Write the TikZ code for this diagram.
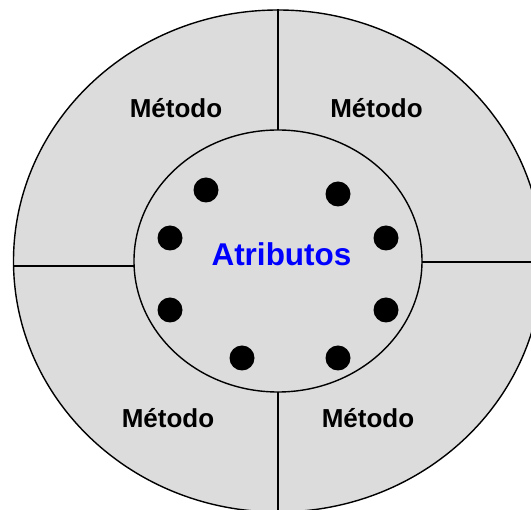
\documentclass[tikz,border=0pt]{standalone}
\usepackage{fontspec}
\setmainfont{Liberation Sans}
\usetikzlibrary{positioning}
\definecolor{ink}{HTML}{000000}
\definecolor{panel}{HTML}{DCDCDC}
\definecolor{attrblue}{HTML}{0000FF}

\begin{document}
\begin{tikzpicture}[x=1pt,y=-1pt]
        \useasboundingbox (0,0) rectangle (531,510);
        \clip (0,0) rectangle (531,510);
        \draw[line width=1.4pt,ink,fill=panel] (278,261) ellipse [x radius=264.5,y radius=251];
        \draw[line width=1.4pt,ink,fill=panel] (278,261) ellipse [x radius=144,y radius=131];
        \draw[line width=1.4pt,ink] (278,9) -- (278,130);
        \draw[line width=1.4pt,ink] (278,392) -- (278,515);
        \draw[line width=1.4pt,ink] (13,266) -- (134,266);
        \draw[line width=1.4pt,ink] (422,262) -- (535,262);
        \foreach \px/\py [count=\i] in {206/190,338/194,170/238,386/238,170/310,386/310,242/358,338/358}
          \node[fill=ink,circle,inner sep=0pt,minimum size=25pt] (a\i) at (\px,\py) {};
        \node[font=\bfseries\fontsize{31.5}{36}\selectfont,text=attrblue,anchor=base] (attr) at (281.5,266) {Atributos};
        \node[font=\bfseries\fontsize{26}{30}\selectfont,anchor=base] (m1) at (176,117.5) {Método};
        \node[font=\bfseries\fontsize{26}{30}\selectfont,anchor=base] (m2) at (376.5,117.5) {Método};
        \node[font=\bfseries\fontsize{26}{30}\selectfont,anchor=base] (m3) at (168,428) {Método};
        \node[font=\bfseries\fontsize{26}{30}\selectfont,anchor=base] (m4) at (368,428) {Método};
      \end{tikzpicture}
\end{document}
